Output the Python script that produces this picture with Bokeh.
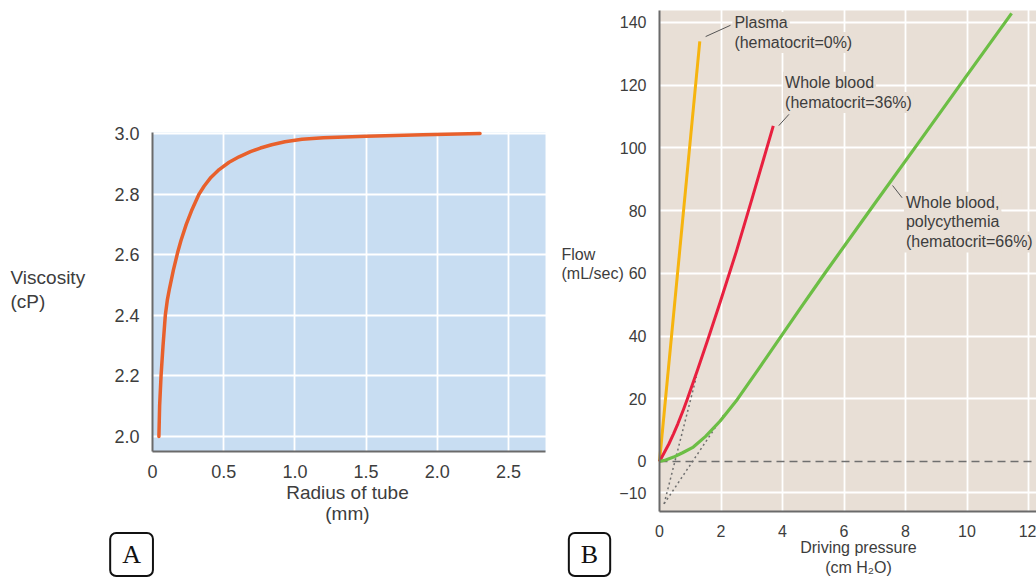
from bokeh.plotting import figure
from bokeh.layouts import row
from bokeh.models import Range1d, Label, FixedTicker, PrintfTickFormatter
from bokeh.embed import file_html
from bokeh.resources import INLINE

# ---------------- data: panel A ----------------
radius_mm = [0.045, 0.05, 0.06, 0.074, 0.09, 0.104, 0.12, 0.147, 0.178, 0.199,
             0.237, 0.274, 0.327, 0.362, 0.41, 0.468, 0.538, 0.608, 0.688,
             0.758, 0.837, 0.93, 1.05, 1.2, 1.5, 1.9, 2.3]
viscosity_cp = [2.00, 2.10, 2.20, 2.30, 2.40, 2.45, 2.49, 2.55, 2.61, 2.645,
                2.70, 2.745, 2.80, 2.826, 2.855, 2.881, 2.905, 2.923, 2.940,
                2.952, 2.963, 2.973, 2.981, 2.986, 2.991, 2.996, 3.00]
a_xticks = [0, 0.5, 1.0, 1.5, 2.0, 2.5]
a_yticks = [2.0, 2.2, 2.4, 2.6, 2.8, 3.0]

# ---------------- data: panel B ----------------
plasma_pressure = [0, 1.31]
plasma_flow = [0, 134]
whole_pressure = [0, 0.3, 0.46, 0.6, 0.78, 0.9, 1.25, 1.6, 1.98, 2.5, 3.0, 3.70]
whole_flow = [0, 5.5, 8.9, 12.1, 16.6, 19.8, 29.6, 39.7, 51, 67, 83.5, 107]
poly_pressure = [0, 0.2, 0.46, 0.75, 1.1, 1.5, 1.98, 2.53, 3.23, 3.93, 4.59,
                 5.36, 6.93, 8.45, 9.92, 11.45]
poly_flow = [0, 0.5, 1.4, 2.8, 4.6, 8.0, 13, 19.8, 29.6, 39.6, 49.0,
             59.8, 81.3, 102.0, 122.1, 142.9]
whole_tangent_p = [0.15, 1.2]
whole_tangent_f = [-13.5, 27]
poly_tangent_p = [0.15, 2.1]
poly_tangent_f = [-13.5, 15]
b_xticks = [0, 2, 4, 6, 8, 10, 12]
b_yticks = [-10, 0, 20, 40, 60, 80, 100, 120, 140]
b_ygrid = [-10, 20, 40, 60, 80, 100, 120, 140]

FONT = "Liberation Sans"
TXT = "#3d3d3d"
AXIS = "#6a6a6a"
BLUE_BG = "#C8DDF2"
BEIGE_BG = "#E8DFD6"

# plot-region extents (panel A: radius, viscosity; panel B: pressure, flow)
A_X0, A_X1, A_Y0, A_Y1 = 0.0, 2.76, 1.95, 3.003
B_X0, B_X1, B_Y0, B_Y1 = 0.0, 12.26, -16.1, 143.8


def style_axes(p, size):
    for ax in (p.xaxis[0], p.yaxis[0]):
        ax.major_tick_line_color = None
        ax.minor_tick_line_color = None
        ax.axis_line_color = AXIS
        ax.axis_line_width = 2
        ax.major_label_text_font = FONT
        ax.major_label_text_font_size = size
        ax.major_label_text_color = TXT
        ax.major_label_standoff = 7
    p.grid.grid_line_color = "white"
    p.grid.grid_line_width = 1.8
    p.outline_line_color = None


def lab(p, x, y, text, size, align="left", bg=None, pad=0, font=FONT,
        color=TXT, **kw):
    l = Label(x=x, y=y, text=text, text_font=font, text_font_size=size,
              text_color=color, text_align=align, text_baseline="middle",
              **kw)
    if bg is not None:
        l.background_fill_color = bg
        l.padding = pad
    p.add_layout(l)
    return l


def make_fig(w, xr, yr):
    p = figure(width=w, height=578, output_backend="svg",
               toolbar_location=None, x_range=Range1d(*xr),
               y_range=Range1d(*yr), min_border_left=0, min_border_right=0,
               min_border_top=0, min_border_bottom=0,
               background_fill_color="white", border_fill_color="white")
    return p


# ---------------- panel A ----------------
pa = make_fig(556, (-1.0674, 2.8371), (1.5314, 3.4389))
pa.quad(left=[A_X0], right=[A_X1], bottom=[A_Y0], top=[A_Y1],
        fill_color=BLUE_BG, line_color=None, level="image")
pa.xaxis.fixed_location = A_Y0
pa.xaxis.bounds = (A_X0, A_X1)
pa.yaxis.fixed_location = A_X0
pa.yaxis.bounds = (A_Y0, A_Y1)
pa.xaxis.ticker = FixedTicker(ticks=a_xticks)
pa.yaxis.ticker = FixedTicker(ticks=a_yticks)
pa.xaxis.formatter = PrintfTickFormatter(format="%.1f")
pa.yaxis.formatter = PrintfTickFormatter(format="%.1f")
pa.xaxis.major_label_overrides = {0: "0"}
pa.xgrid.ticker = FixedTicker(ticks=[0.5, 1.0, 1.5, 2.0, 2.5])
pa.ygrid.ticker = FixedTicker(ticks=a_yticks)
style_axes(pa, "18px")

pa.line(radius_mm, viscosity_cp, line_color="#E8602C", line_width=3.5,
        line_join="round", line_cap="round")

lab(pa, -0.997, 2.525, "Viscosity", "19px")
lab(pa, -0.997, 2.445, "(cP)", "19px")
lab(pa, 1.369, 1.815, "Radius of tube", "19px", align="center")
lab(pa, 1.369, 1.746, "(mm)", "19px", align="center")
lab(pa, -0.147, 1.6106, "A", "26px", align="center", font="Liberation Serif",
    color="#111111", border_line_color="#111111", border_line_width=2,
    background_fill_color="white", padding=(12, 7), border_radius=6)

# ---------------- panel B ----------------
pb = make_fig(480, (-3.3496, B_X1), (-37.31, 147.0))
pb.quad(left=[B_X0], right=[B_X1], bottom=[B_Y0], top=[B_Y1],
        fill_color=BEIGE_BG, line_color=None, level="image")
pb.xaxis.fixed_location = B_Y0
pb.xaxis.bounds = (B_X0, B_X1)
pb.yaxis.fixed_location = B_X0
pb.yaxis.bounds = (B_Y0, B_Y1)
pb.xaxis.ticker = FixedTicker(ticks=b_xticks)
pb.yaxis.ticker = FixedTicker(ticks=b_yticks)
pb.yaxis.major_label_overrides = {-10: "\u221210"}
pb.xgrid.ticker = FixedTicker(ticks=[2, 4, 6, 8, 10, 12])
pb.ygrid.ticker = FixedTicker(ticks=b_ygrid)
style_axes(pb, "16px")

pb.line([B_X0, B_X1], [0, 0], line_color="#6f6f6f", line_width=1.5,
        line_dash="8 5")
pb.line(whole_tangent_p, whole_tangent_f, line_color="#6f6f6f", line_width=1.5,
        line_dash="2 3")
pb.line(poly_tangent_p, poly_tangent_f, line_color="#6f6f6f", line_width=1.5,
        line_dash="2 3")
pb.line(plasma_pressure, plasma_flow, line_color="#F6B40E", line_width=3)
pb.line(whole_pressure, whole_flow, line_color="#E8203F", line_width=3,
        line_join="round")
pb.line(poly_pressure, poly_flow, line_color="#6CBE45", line_width=3.2,
        line_join="round")

# leader lines
pb.line([1.50, 2.31], [135.5, 139.1], line_color="#555555", line_width=1)
pb.line([3.88, 4.21], [107.1, 110.7], line_color="#555555", line_width=1)
pb.line([7.58, 7.89], [88.0, 84.1], line_color="#555555", line_width=1)

lab(pb, 2.37, 140.0, "Plasma", "16px", bg=BEIGE_BG, pad=2)
lab(pb, 2.37, 133.6, "(hematocrit=0%)", "16px", bg=BEIGE_BG, pad=2)
lab(pb, 4.02, 120.9, "Whole blood", "16px", bg=BEIGE_BG, pad=2)
lab(pb, 4.02, 114.5, "(hematocrit=36%)", "16px", bg=BEIGE_BG, pad=2)
lab(pb, 7.95, 82.7, "Whole blood,", "16px", bg=BEIGE_BG, pad=2)
lab(pb, 7.95, 76.5, "polycythemia", "16px", bg=BEIGE_BG, pad=2)
lab(pb, 7.95, 70.0, "(hematocrit=66%)", "16px", bg=BEIGE_BG, pad=2)

lab(pb, -3.187, 66.0, "Flow", "16px")
lab(pb, -3.187, 59.9, "(mL/sec)", "16px")
lab(pb, 6.47, -27.4, "Driving pressure", "16px", align="center")
lab(pb, 6.47, -33.8, "(cm H\u2082O)", "16px", align="center")
lab(pb, -2.276, -29.66, "B", "26px", align="center", font="Liberation Serif",
    color="#111111", border_line_color="#111111", border_line_width=2,
    background_fill_color="white", padding=(12, 7), border_radius=6)

layout = row(pa, pb)
open("out.html", "w").write(file_html(layout, INLINE))
